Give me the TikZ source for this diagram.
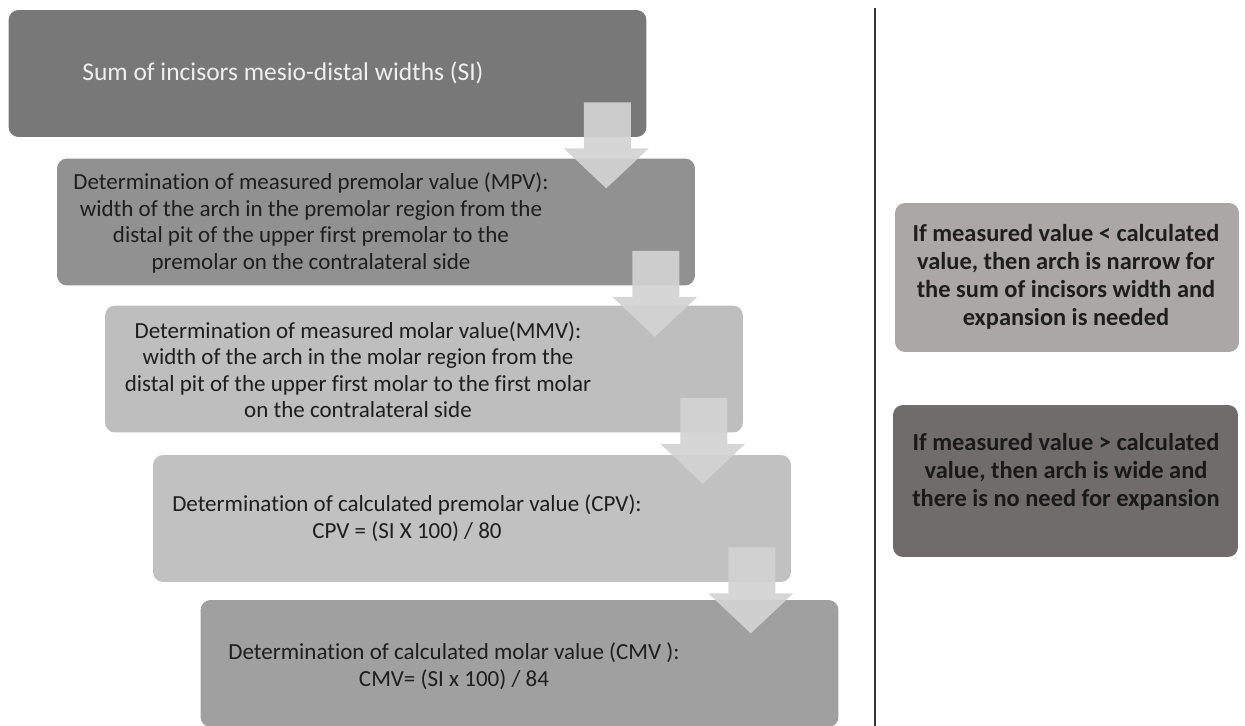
\documentclass[tikz,border=0pt]{standalone}
\usepackage{fontspec}
\setmainfont{Carlito}[Ligatures={NoCommon}]
\definecolor{cA}{RGB}{120,120,120}
\definecolor{cB}{RGB}{145,145,145}
\definecolor{cC}{RGB}{190,190,190}
\definecolor{cD}{RGB}{193,193,193}
\definecolor{cE}{RGB}{160,160,160}
\definecolor{arr}{RGB}{211,211,211}
\definecolor{rA}{RGB}{170,167,166}
\definecolor{rB}{RGB}{112,108,108}
\definecolor{txt}{RGB}{30,30,30}
\definecolor{divc}{RGB}{55,55,55}
\newcommand\blockarrowat[1]{%
  \fill[blockarrow, shift={(#1.south east)}] (-63,-35) -- (-16,-35) -- (-16,11) -- (2,11) -- (-40.5,51) -- (-83,11) -- (-63,11) -- cycle;}
\begin{document}
\begin{tikzpicture}[x=0.02cm,y=-0.02cm,
  box/.style={rounded corners=0.2cm, inner sep=0pt, draw=none, minimum width=12.76cm, minimum height=2.54cm},
  rbox/.style={rounded corners=0.2cm, inner sep=0pt, draw=none},
  lbl/.style={align=center, text=txt, inner sep=0pt, font=\fontsize{13.1}{15.1}\selectfont},
  rlbl/.style={align=center, text=txt, inner sep=0pt, font=\bfseries\fontsize{13.9}{15.9}\selectfont},
  blockarrow/.style={fill=arr, draw=none, fill opacity=0.92},
  divider/.style={draw=divc, line width=1.5pt}]
\useasboundingbox (0,0) rectangle (1245,726);
% left flow boxes
\node[box, fill=cA] (b1) at (327.5,73.5) {};
\node[box, fill=cB] (b2) at (376,222) {};
\node[box, fill=cC] (b3) at (424,369) {};
\node[box, fill=cD] (b4) at (472,518.5) {};
\node[box, fill=cE] (b5) at (519.5,663.5) {};
% texts
\node[lbl, anchor=west, text=white!94!black, font=\fontsize{14.5}{16.5}\selectfont] (t1) at (82,73) {Sum of incisors mesio-distal widths (SI)};
\node[lbl] (t2) at (311,223) {Determination of measured premolar value (MPV):\\ width of the arch in the premolar region from the\\ distal pit of the upper first premolar to the\\ premolar on the contralateral side};
\node[lbl] (t3) at (358,369.5) {Determination of measured molar value(MMV):\\ width of the arch in the molar region from the\\ distal pit of the upper first molar to the first molar\\ on the contralateral side};
\node[lbl] (t4) at (407,518) {Determination of calculated premolar value (CPV):\\ CPV = (SI X 100) / 80};
\node[lbl] (t5) at (454,666) {Determination of calculated molar value (CMV ):\\ CMV= (SI x 100) / 84};
% block arrows
\blockarrowat{b1}
\blockarrowat{b2}
\blockarrowat{b3}
\blockarrowat{b4}
% divider
\coordinate (vtop) at (875,8);
\coordinate (vbot) at (875,726);
\draw[divider] (vtop) -- (vbot);
% right boxes
\node[rbox, fill=rA, minimum width=6.88cm, minimum height=2.98cm] (r1) at (1067,277.5) {};
\node[rbox, fill=rB, minimum width=6.9cm, minimum height=3.04cm] (r2) at (1065.5,481) {};
\node[rlbl] (rt1) at (1066,277) {If measured value < calculated\\ value, then arch is narrow for\\ the sum of incisors width and\\ expansion is needed};
\node[rlbl, text=black!90] (rt2) at (1066,472) {If measured value > calculated\\ value, then arch is wide and\\ there is no need for expansion};
\end{tikzpicture}
\end{document}
